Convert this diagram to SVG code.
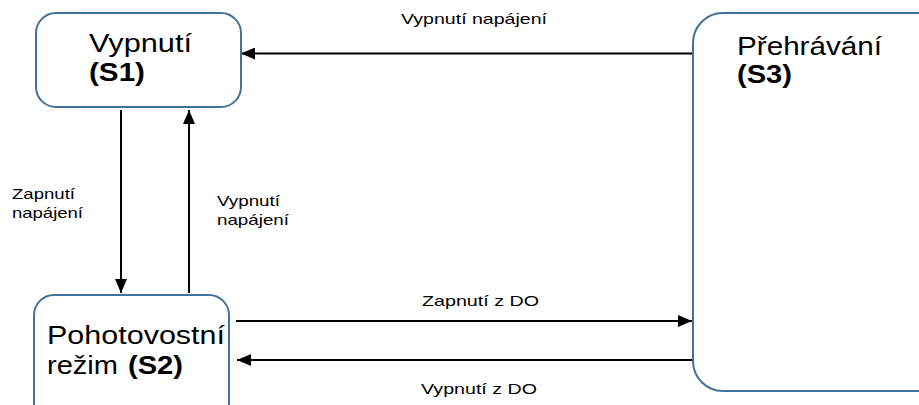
<svg xmlns="http://www.w3.org/2000/svg" width="919" height="405" viewBox="0 0 919 405">
<style>
.node{fill:#ffffff;stroke:#41719c;stroke-width:2}
.big{font-family:"Liberation Sans",Arial,sans-serif;font-size:26px;fill:#000}
.bold{font-weight:bold}
.lbl{font-family:"Liberation Sans",Arial,sans-serif;font-size:15px;fill:#000}
.edge{stroke:#000;stroke-width:2;fill:none;marker-end:url(#ah)}
</style>
<defs>
<marker id="ah" viewBox="0 0 14 12" refX="14" refY="6" markerWidth="14" markerHeight="12" markerUnits="userSpaceOnUse" orient="auto">
<path d="M0,0 L14,6 L0,12 Z" fill="#000"/>
</marker>
</defs>
<rect width="919" height="405" fill="#fff"/>
<g id="connectors">
<line class="edge" x1="693" y1="53.5" x2="241" y2="53.5"/>
<line class="edge" x1="121" y1="110" x2="121" y2="293"/>
<line class="edge" x1="189" y1="293" x2="189" y2="110"/>
<line class="edge" x1="236" y1="321" x2="692" y2="321"/>
<line class="edge" x1="692" y1="360" x2="237" y2="360"/>
<text class="lbl" x="401" y="24" textLength="146" lengthAdjust="spacingAndGlyphs">Vypnutí napájení</text>
<text class="lbl" x="12" y="199" textLength="63" lengthAdjust="spacingAndGlyphs">Zapnutí</text>
<text class="lbl" x="12" y="218" textLength="71" lengthAdjust="spacingAndGlyphs">napájení</text>
<text class="lbl" x="217" y="206" textLength="63" lengthAdjust="spacingAndGlyphs">Vypnutí</text>
<text class="lbl" x="217" y="225" textLength="72" lengthAdjust="spacingAndGlyphs">napájení</text>
<text class="lbl" x="422" y="306" textLength="117" lengthAdjust="spacingAndGlyphs">Zapnutí z DO</text>
<text class="lbl" x="421" y="394" textLength="116" lengthAdjust="spacingAndGlyphs">Vypnutí z DO</text>
</g>
<g id="s1">
<rect class="node" x="36" y="13" width="205" height="94" rx="20" ry="20"/>
<text class="big" x="89" y="52" textLength="103" lengthAdjust="spacingAndGlyphs">Vypnutí</text>
<text class="big bold" x="89" y="81" textLength="56" lengthAdjust="spacingAndGlyphs">(S1)</text>
</g>
<g id="s2">
<rect class="node" x="34" y="295" width="195" height="130" rx="20" ry="20"/>
<text class="big" x="47" y="344" textLength="178" lengthAdjust="spacingAndGlyphs">Pohotovostní</text>
<text class="big" x="47" y="374" textLength="71" lengthAdjust="spacingAndGlyphs">režim</text>
<text class="big bold" x="128" y="374" textLength="55" lengthAdjust="spacingAndGlyphs">(S2)</text>
</g>
<g id="s3">
<rect class="node" x="693" y="13" width="260" height="378" rx="30" ry="30"/>
<text class="big" x="737" y="55" textLength="145" lengthAdjust="spacingAndGlyphs">Přehrávání</text>
<text class="big bold" x="737" y="83" textLength="55" lengthAdjust="spacingAndGlyphs">(S3)</text>
</g>
</svg>
